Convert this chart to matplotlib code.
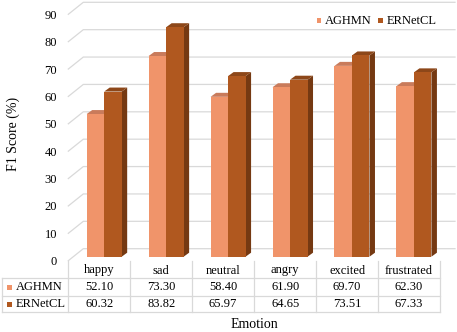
import matplotlib.pyplot as plt
from matplotlib.patches import Polygon, Rectangle
import numpy as np

# data
emotions = ['happy', 'sad', 'neutral', 'angry', 'excited', 'frustrated']
aghmn = [52.10, 73.30, 58.40, 61.90, 69.70, 62.30]
ernetcl = [60.32, 83.82, 65.97, 64.65, 73.51, 67.33]
series_names = ['AGHMN', 'ERNetCL']
yticks = list(range(0, 100, 10))

# front / top / side colours per series
face_colors = [('#F0946A', '#C97B5B', '#B86C4E'),
               ('#B0581F', '#8D4719', '#753912')]

plt.rcParams['font.family'] = ['Liberation Serif', 'DejaVu Serif']

W, H = 457, 332
fig = plt.figure(figsize=(W / 100, H / 100), dpi=100)

# overlay in pixel coords (y down) for the data table and labels
ov = fig.add_axes([0, 0, 1, 1])
ov.set_xlim(0, W)
ov.set_ylim(H, 0)
ov.axis('off')

# front plane of the pseudo-3d plot
x0, x1 = 68.3, 440.0
y0, y1 = 260.7, 14.3
ax = fig.add_axes([x0 / W, 1 - y0 / H, (x1 - x0) / W, (y0 - y1) / H])
ax.set_xlim(-0.5, 5.5)
ax.set_ylim(0, 90)
ax.patch.set_visible(False)
for s in ax.spines.values():
    s.set_visible(False)

sx = 6 / (x1 - x0)     # data units per pixel
sy = 90 / (y0 - y1)

# back wall gridlines
gdx, gdy = 15 * sx, 12 * sy
for v in yticks:
    ax.plot([-0.5, -0.5 + gdx, 5.5 + gdx], [v, v + gdy, v + gdy],
            color='#d9d9d9', lw=0.9, clip_on=False, zorder=0)

ax.set_yticks(yticks)
ax.set_xticks([])
ax.tick_params(axis='y', length=0, pad=8, labelsize=9)

# bars
ox, oy = 4.9 * sx, 4 * sy     # bar plane offset from front
ddx, ddy = 5.5 * sx, 4 * sy   # bar depth
bw = 17.5 * sx
x = np.arange(len(emotions))
z = 2
for i in range(len(emotions)):
    for k, vals in enumerate([aghmn, ernetcl]):
        front, top, side = face_colors[k]
        left = x[i] - bw + k * bw + ox
        h = vals[i]
        b, t = oy, h + oy
        ax.add_patch(Polygon([(left + bw, b), (left + bw + ddx, b + ddy),
                              (left + bw + ddx, t + ddy), (left + bw, t)],
                             closed=True, color=side, lw=0, clip_on=False, zorder=z))
        ax.add_patch(Polygon([(left, t), (left + bw, t), (left + bw + ddx, t + ddy),
                              (left + ddx, t + ddy)],
                             closed=True, color=top, lw=0, clip_on=False, zorder=z))
        ax.bar(left, h, width=bw, bottom=b, align='edge', color=front, lw=0,
               clip_on=False, zorder=z + 0.5)
        z += 1

# data table
edges = x0 + (x1 - x0) / 6 * np.arange(7)
row_lines = [278.3, 295.7, 312.3]
lc = '#d9d9d9'
for e in edges:
    ov.plot([e, e], [y0, row_lines[-1]], color=lc, lw=0.9)
ov.plot([2, 2], [row_lines[0], row_lines[-1]], color=lc, lw=0.9)
for r in row_lines:
    ov.plot([2, x1], [r, r], color=lc, lw=0.9)

centers = (edges[:-1] + edges[1:]) / 2
for c, name in zip(centers, emotions):
    ov.text(c, 270.5, name, ha='center', va='center', fontsize=9)
row_c = [287, 304]
for k, vals in enumerate([aghmn, ernetcl]):
    for c, v in zip(centers, vals):
        ov.text(c, row_c[k], f'{v:.2f}', ha='center', va='center', fontsize=9)
    ov.add_patch(Rectangle((6.7, row_c[k] - 2.5), 5, 5, color=face_colors[k][0], lw=0))
    ov.text(16, row_c[k], series_names[k], ha='left', va='center', fontsize=9)

# legend
for k, (sq, tx) in enumerate([(316.5, 325), (378, 386.5)]):
    ov.add_patch(Rectangle((sq, 18.2), 4.5, 5, color=face_colors[k][0], lw=0))
    ov.text(tx, 20.7, series_names[k], ha='left', va='center', fontsize=9)

ov.text(254, 325, 'Emotion', ha='center', va='center', fontsize=10)
ov.text(13, 134, 'F1 Score (%)', ha='center', va='center', fontsize=10, rotation=90)

fig.savefig('out.png', dpi=100)
